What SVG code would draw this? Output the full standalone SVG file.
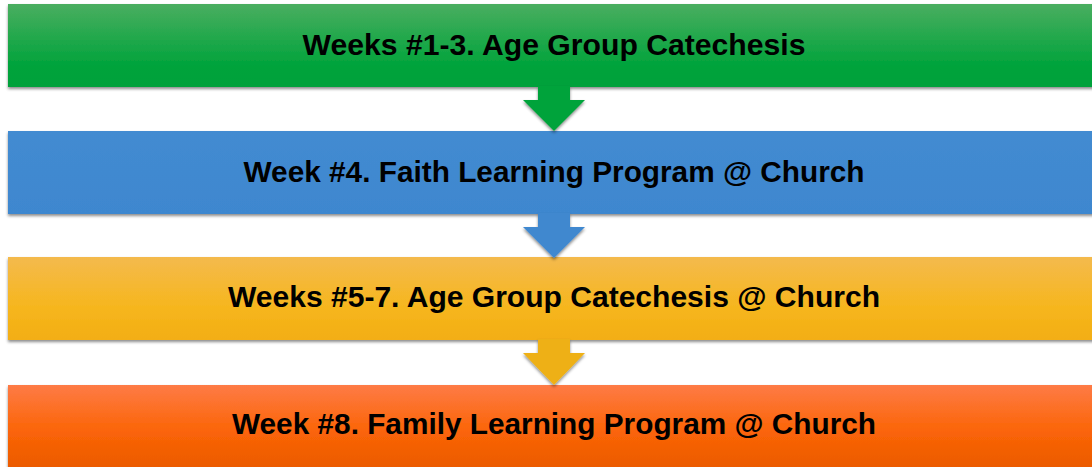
<svg xmlns="http://www.w3.org/2000/svg" width="1092" height="467" viewBox="0 0 1092 467">
  <defs>
    <linearGradient id="gGreen" x1="0" y1="0" x2="0" y2="1">
      <stop offset="0" stop-color="#4aae60"/>
      <stop offset="0.75" stop-color="#00a33b"/>
      <stop offset="1" stop-color="#00a13a"/>
    </linearGradient>
    <linearGradient id="gBlue" x1="0" y1="0" x2="0" y2="1">
      <stop offset="0" stop-color="#438bd1"/>
      <stop offset="1" stop-color="#3e87cf"/>
    </linearGradient>
    <linearGradient id="gYellow" x1="0" y1="0" x2="0" y2="1">
      <stop offset="0" stop-color="#f4ba4d"/>
      <stop offset="0.6" stop-color="#f6b61e"/>
      <stop offset="1" stop-color="#f3ae12"/>
    </linearGradient>
    <linearGradient id="gOrange" x1="0" y1="0" x2="0" y2="1">
      <stop offset="0" stop-color="#fe7b46"/>
      <stop offset="0.5" stop-color="#fb6508"/>
      <stop offset="1" stop-color="#e85800"/>
    </linearGradient>
    <filter id="shadow" x="-5%" y="-20%" width="110%" height="150%">
      <feDropShadow dx="0" dy="2" stdDeviation="1.6" flood-color="#000" flood-opacity="0.45"/>
    </filter>
  </defs>
  <style>
    .bar { filter: url(#shadow); }
    .arrow { filter: url(#shadow); }
    .label { font-family: "Liberation Sans", Arial, sans-serif; font-weight: bold; font-size: 29px; fill: #000; text-anchor: middle; }
  </style>
  <rect width="1092" height="467" fill="#ffffff"/>

  <g id="node1">
    <rect class="bar" x="8" y="4" width="1100" height="83" fill="url(#gGreen)"/>
    <text class="label" x="554" y="55" textLength="503" lengthAdjust="spacingAndGlyphs">Weeks #1-3. Age Group Catechesis</text>
  </g>
  <g id="node2">
    <rect class="bar" x="8" y="131" width="1100" height="83" fill="url(#gBlue)"/>
    <text class="label" x="554" y="182" textLength="621" lengthAdjust="spacingAndGlyphs">Week #4. Faith Learning Program @ Church</text>
  </g>
  <g id="node3">
    <rect class="bar" x="8" y="257" width="1100" height="83" fill="url(#gYellow)"/>
    <text class="label" x="554" y="307" textLength="652" lengthAdjust="spacingAndGlyphs">Weeks #5-7. Age Group Catechesis @ Church</text>
  </g>
  <g id="node4">
    <rect class="bar" x="8" y="385" width="1100" height="90" fill="url(#gOrange)"/>
    <text class="label" x="554" y="434" textLength="644" lengthAdjust="spacingAndGlyphs">Week #8. Family Learning Program @ Church</text>
  </g>

  <g id="connectors">
    <polygon class="arrow" points="538,86 570,86 570,100 585,100 554,131 523,100 538,100" fill="#00a33b"/>
    <polygon class="arrow" points="538,213 570,213 570,227 585,227 554,258 523,227 538,227" fill="#3f88cf"/>
    <polygon class="arrow" points="538,339 570,339 570,353 585,353 554,385 523,353 538,353" fill="#eeb013"/>
  </g>
</svg>
